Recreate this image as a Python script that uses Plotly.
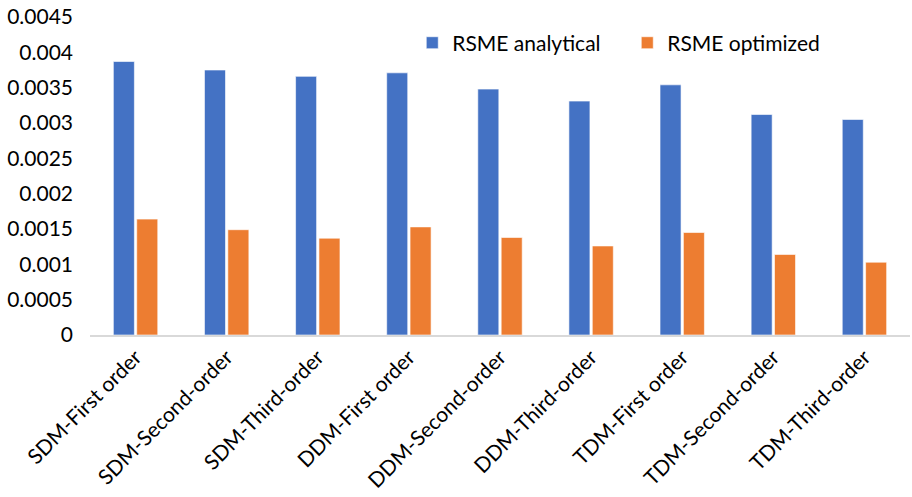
import plotly.graph_objects as go

categories = [
    "SDM-First order", "SDM-Second-order", "SDM-Third-order",
    "DDM-First order", "DDM-Second-order", "DDM-Third-order",
    "TDM-First order", "TDM-Second-order", "TDM-Third-order",
]
rsme_analytical = [0.00387, 0.00375, 0.00366, 0.00371, 0.00348, 0.00331, 0.00354, 0.00312, 0.00305]
rsme_optimized = [0.00164, 0.00149, 0.00137, 0.00153, 0.00138, 0.00126, 0.00145, 0.00114, 0.00103]
y_ticks = [0, 0.0005, 0.001, 0.0015, 0.002, 0.0025, 0.003, 0.0035, 0.004, 0.0045]
y_tick_text = ["0", "0.0005", "0.001", "0.0015", "0.002", "0.0025", "0.003", "0.0035", "0.004", "0.0045"]

FONT = "Lato, 'Open Sans', sans-serif"

fig = go.Figure()
fig.add_trace(go.Bar(
    x=categories, y=rsme_analytical, name="RSME analytical",
    marker=dict(color="#4472C4", line=dict(color="rgba(255,255,255,0.6)", width=1)),
))
fig.add_trace(go.Bar(
    x=categories, y=rsme_optimized, name="RSME optimized",
    marker=dict(color="#ED7D31", line=dict(color="rgba(255,255,255,0.6)", width=1)),
))

fig.update_layout(
    width=912, height=497,
    margin=dict(l=90, r=2, t=17, b=162),
    paper_bgcolor="white", plot_bgcolor="white",
    barmode="group", bargap=0.487, bargroupgap=0.1,
    font=dict(family=FONT, size=21, color="#000000"),
    showlegend=True,
    legend=dict(
        orientation="h", x=0.393, y=0.918, xanchor="left", yanchor="middle",
        font=dict(family=FONT, size=21, color="#000000"),
        bgcolor="rgba(0,0,0,0)", itemwidth=30, entrywidth=170,
    ),
)
fig.update_xaxes(
    type="category", tickangle=-45, showgrid=False, automargin=False,
    showline=True, linecolor="#d9d9d9", linewidth=1.5,
    ticks="", tickfont=dict(family=FONT, size=21, color="#000000"),
)
fig.update_yaxes(
    range=[0, 0.0045], tickvals=y_ticks, ticktext=y_tick_text,
    showgrid=False, zeroline=False, showline=False, ticks="",
    ticklabelstandoff=16, automargin=False,
    tickfont=dict(family=FONT, size=21, color="#000000"),
)

fig.write_html("out.html")
